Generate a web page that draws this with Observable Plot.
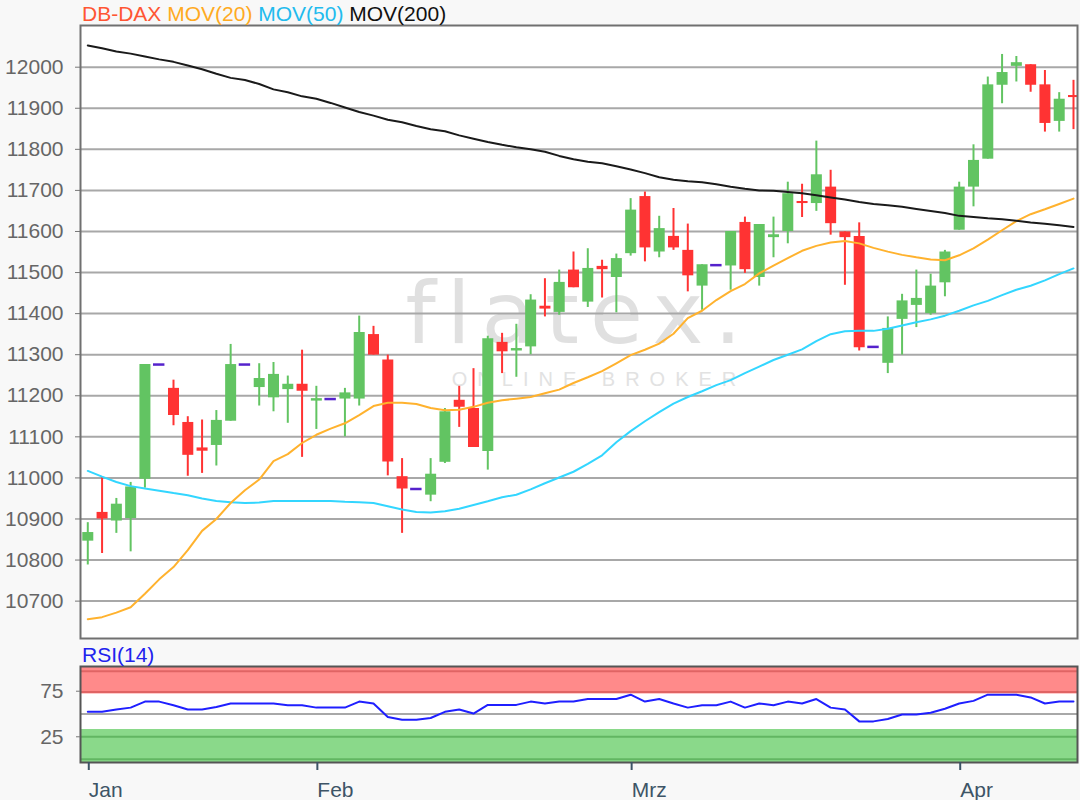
<!DOCTYPE html>
<html>
<head>
<meta charset="utf-8">
<script src="https://cdn.jsdelivr.net/npm/d3@7"></script>
<script src="https://cdn.jsdelivr.net/npm/@observablehq/plot@0.6"></script>
<style>
  body { margin: 0; background: #f8f8f8; font-family: "Liberation Sans", Arial, sans-serif; }
  #wrap { position: relative; width: 1080px; height: 800px; overflow: hidden; }
  #main { position: absolute; left: 0; top: 0; }
  #rsi { position: absolute; left: 0; top: 640px; }
  #title { position: absolute; left: 82px; top: 2px; font-size: 21px; white-space: pre; line-height: normal; }
  #rsiTitle { position: absolute; left: 82px; top: 643px; font-size: 21px; color: #2222ee; line-height: normal; }
</style>
</head>
<body>
<div id="wrap">
  <div id="main"></div>
  <div id="rsi"></div>
  <div id="title"><span style="color:#ff5533">DB-DAX</span> <span style="color:#ffaa22">MOV(20)</span> <span style="color:#22bbee">MOV(50)</span> <span style="color:#111">MOV(200)</span></div>
  <div id="rsiTitle">RSI(14)</div>
</div>
<script>
// ---- Data, one entry per trading session ----
const openPrices = [10846,10916,10895,10901,10997,11276,11218,11135,11073,11079,
  11138,11276,11220,11195,11215,11228,11187,11192,11192,11192,
  11349,11287,11003,10973,10958,11038,11189,11169,11064,11330,
  11309,11319,11418,11403,11506,11428,11515,11488,11546,11685,
  11550,11588,11554,11467,11518,11516,11622,11488,11585,11600,
  11673,11668,11708,11599,11588,11319,11279,11386,11420,11400,
  11475,11603,11708,11776,11956,12002,12006,11957,11868,11931];

const highPrices = [10891,11003,10950,10989,11276,11276,11238,11149,11141,11164,
  11325,11276,11278,11281,11248,11311,11223,11192,11218,11394,
  11369,11299,11047,10973,11047,11169,11223,11266,11345,11352,
  11374,11446,11485,11506,11550,11558,11530,11545,11680,11696,
  11637,11656,11618,11519,11518,11600,11635,11617,11635,11720,
  11715,11820,11749,11599,11621,11319,11392,11447,11506,11496,
  11554,11720,11811,11976,12031,12026,12006,11992,11938,11968];

const lowPrices = [10788,10816,10865,10820,10975,11276,11127,11004,11011,11029,
  11138,11276,11175,11161,11133,11050,11118,11192,11100,11175,
  11299,11005,10865,10973,10942,11035,11123,11074,11019,11254,
  11245,11300,11392,11396,11463,11415,11438,11402,11540,11526,
  11536,11554,11453,11408,11518,11457,11498,11467,11536,11570,
  11634,11649,11591,11469,11309,11319,11254,11299,11366,11396,
  11441,11603,11660,11776,11911,11964,11939,11842,11842,11848];

const closePrices = [10867,10900,10936,10978,11276,11276,11152,11055,11065,11140,
  11276,11276,11242,11252,11228,11211,11193,11192,11207,11354,
  11299,11039,10973,10973,11009,11161,11172,11074,11339,11307,
  11315,11433,11411,11476,11463,11510,11507,11534,11652,11560,
  11607,11560,11492,11519,11518,11600,11507,11617,11592,11692,
  11668,11738,11619,11585,11317,11319,11364,11431,11437,11467,
  11550,11708,11773,11957,11987,12011,11956,11863,11922,11926];

const mov20 = [10656,10661,10672,10685,10718,10753,10783,10824,10871,10900,
  10939,10970,10996,11041,11058,11085,11105,11120,11133,11153,
  11175,11183,11183,11180,11170,11165,11166,11173,11183,11189,
  11193,11197,11206,11215,11231,11245,11260,11279,11299,11312,
  11327,11351,11389,11407,11433,11455,11472,11498,11517,11535,
  11553,11565,11573,11577,11571,11560,11551,11543,11537,11532,
  11530,11542,11559,11580,11603,11625,11642,11654,11667,11680];

const mov50 = [11017,11003,10990,10980,10974,10969,10963,10958,10950,10944,
  10941,10939,10940,10944,10944,10944,10944,10944,10942,10941,
  10939,10931,10923,10917,10916,10919,10925,10934,10943,10953,
  10959,10972,10987,11001,11015,11034,11055,11087,11114,11138,
  11160,11181,11197,11211,11226,11238,11255,11271,11287,11300,
  11313,11333,11350,11357,11358,11358,11363,11371,11379,11386,
  11395,11407,11420,11431,11445,11458,11468,11481,11496,11510];

const mov200 = [12053,12046,12038,12033,12026,12019,12013,12004,11995,11984,
  11974,11969,11959,11946,11939,11929,11923,11913,11902,11891,
  11882,11872,11866,11857,11849,11844,11834,11826,11818,11811,
  11805,11800,11794,11784,11776,11770,11766,11759,11751,11742,
  11732,11726,11722,11720,11715,11709,11704,11700,11699,11696,
  11693,11688,11683,11678,11672,11667,11664,11660,11655,11650,
  11645,11638,11635,11632,11630,11626,11622,11619,11615,11611];

const rsi14 = [52.4,52.4,55,57,63.6,63.6,59.6,55,55,57.6,
  61.5,61.5,61.5,61.5,59.6,59.6,57,57,57,63.6,
  61.5,46.8,43.8,43.8,45.6,52.4,55,50.5,60,60,
  60,63.6,61.5,63.6,63.6,66.4,66.4,66.4,71.2,63.6,
  66.4,61.5,57,59.6,59.6,63.6,57,61.5,59.6,63.6,
  61.5,66.4,57,55,41.9,41.9,44.5,49.5,49.5,51.3,
  55.8,61.5,64.4,71.2,71.2,71.2,68.2,61.5,63.6,63.6];

const priceTicks = [10700,10800,10900,11000,11100,11200,11300,11400,11500,11600,11700,11800,11900,12000];
const rsiTicks = [25, 75];
const monthLabels = ["Jan", "Feb", "Mrz", "Apr"];
const monthStartIndex = [0, 16, 38, 61];

const rsiOverbought = [72, 103];
const rsiOversold = [-4, 33];
const rsiRedLines = [97, 74];
const rsiGreenLines = [25, 0.5];
const rsiMid = [50];

// ---- Build chart ----
const candles = openPrices.map((o, i) => ({
  i, open: o, high: highPrices[i], low: lowPrices[i], close: closePrices[i]
}));
const up = candles.filter(d => d.close > d.open);
const down = candles.filter(d => d.close < d.open);
const flat = candles.filter(d => d.close === d.open);

const xDomain = [-0.51, candles.length - 1 + 0.28];
const GREEN = "#62c462", RED = "#ff3333", PURPLE = "#5522cc";
const font = "'Liberation Sans', Arial, sans-serif";

const mainSvg = Plot.plot({
  width: 1080, height: 640,
  marginTop: 25, marginRight: 3, marginBottom: 2, marginLeft: 80,
  x: {domain: xDomain, axis: null},
  y: {domain: [10609, 12101.5]},
  style: {background: "transparent", fontFamily: font, overflow: "visible"},
  marks: [
    Plot.frame({fill: "#ffffff", stroke: null}),
    Plot.text(["flatex."], {frameAnchor: "middle", dy: -17, fontSize: 86, fill: "#e0e0e0", fontFamily: "DejaVu Sans"}),
    Plot.text(["ONLINE BROKER"], {frameAnchor: "middle", dx: 20, dy: 48, fontSize: 20, fill: "#e2e2e2"}),
    Plot.ruleY(priceTicks, {stroke: "#a8a8a8", strokeWidth: 2}),
    Plot.axisY(priceTicks, {tickSize: 5, tickPadding: 12, fontSize: 21, fill: "#666", stroke: "#777", tickFormat: d => String(d)}),
    Plot.ruleX(up, {x: "i", y1: "low", y2: "high", stroke: GREEN, strokeWidth: 2, clip: true}),
    Plot.ruleX(down, {x: "i", y1: "low", y2: "high", stroke: RED, strokeWidth: 2, clip: true}),
    Plot.ruleX(up, {x: "i", y1: "open", y2: "close", stroke: GREEN, strokeWidth: 11, clip: true}),
    Plot.ruleX(down, {x: "i", y1: "open", y2: "close", stroke: RED, strokeWidth: 11, clip: true}),
    Plot.ruleY(flat, {y: "close", x1: d => d.i - 0.4, x2: d => d.i + 0.4, stroke: PURPLE, strokeWidth: 2.5}),
    Plot.lineY(mov50, {x: (d, i) => i, y: d => d, stroke: "#33d6ff", strokeWidth: 2}),
    Plot.lineY(mov20, {x: (d, i) => i, y: d => d, stroke: "#ffb22e", strokeWidth: 2}),
    Plot.lineY(mov200, {x: (d, i) => i, y: d => d, stroke: "#1a1a1a", strokeWidth: 2}),
    Plot.frame({stroke: "#707070", strokeWidth: 2})
  ]
});
d3.select(mainSvg).selectAll("text")
  .filter(function() { return this.textContent === "ONLINE BROKER"; })
  .attr("letter-spacing", "10px");
d3.select(mainSvg).selectAll("text")
  .filter(function() { return this.textContent === "flatex."; })
  .attr("letter-spacing", "11px");
document.getElementById("main").append(mainSvg);

const rsiSvg = Plot.plot({
  width: 1080, height: 160,
  marginTop: 26, marginRight: 3, marginBottom: 38, marginLeft: 80,
  x: {domain: xDomain},
  y: {domain: [-3.2, 102.1]},
  style: {background: "transparent", fontFamily: font, overflow: "visible"},
  marks: [
    Plot.frame({fill: "#ffffff", stroke: null}),
    Plot.rect([rsiOverbought], {x1: () => xDomain[0], x2: () => xDomain[1], y1: d => d[0], y2: d => d[1], fill: "#ff8a8a", clip: true}),
    Plot.rect([rsiOversold], {x1: () => xDomain[0], x2: () => xDomain[1], y1: d => d[0], y2: d => d[1], fill: "#8ad98a", clip: true}),
    Plot.ruleY(rsiRedLines, {stroke: "#e06464", strokeWidth: 2}),
    Plot.ruleY(rsiGreenLines, {stroke: "#62b662", strokeWidth: 2}),
    Plot.ruleY(rsiMid, {stroke: "#a8a8a8", strokeWidth: 2}),
    Plot.lineY(rsi14, {x: (d, i) => i, y: d => d, stroke: "#1f1fff", strokeWidth: 2}),
    Plot.frame({stroke: "#555", strokeWidth: 2}),
    Plot.axisY(rsiTicks, {tickSize: 4, tickPadding: 13, fontSize: 21, fill: "#666", stroke: "#777"}),
    Plot.axisX(monthStartIndex, {tickSize: 8, tickPadding: 12, fontSize: 21, textAnchor: "start", dx: 1,
      fill: "#3d5466", stroke: "#3d5466", strokeWidth: 2,
      tickFormat: d => monthLabels[monthStartIndex.indexOf(d)]})
  ]
});
document.getElementById("rsi").append(rsiSvg);
</script>
</body>
</html>
